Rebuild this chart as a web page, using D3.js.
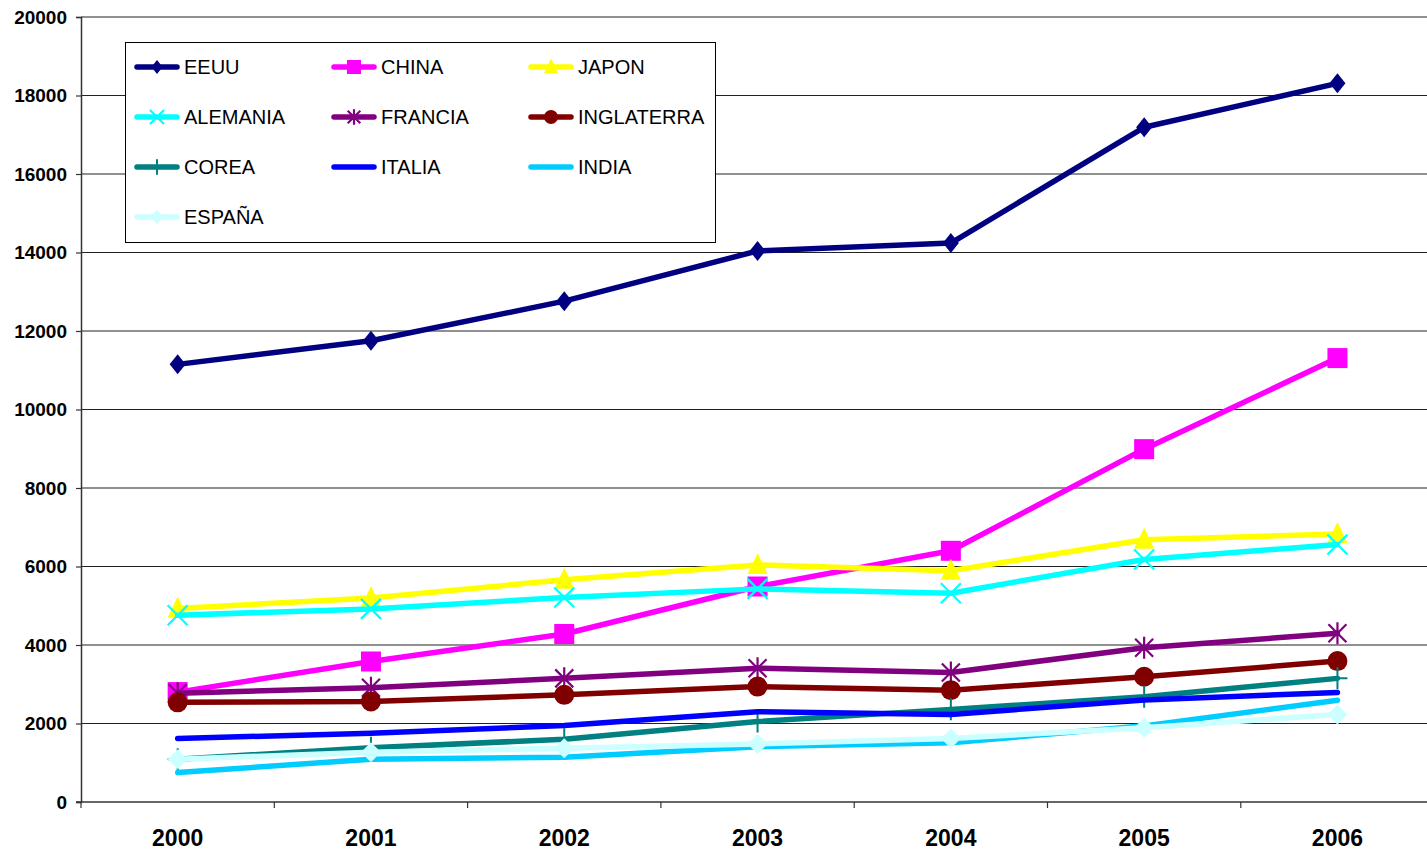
<!DOCTYPE html>
<html>
<head>
<meta charset="utf-8">
<script src="https://cdn.jsdelivr.net/npm/d3@7"></script>
<style>
  body { margin: 0; background: #fff; }
  svg { display: block; font-family: "Liberation Sans", Arial, sans-serif; }
</style>
</head>
<body>
<svg id="chart" width="1427" height="852"></svg>
<script>
// years on the x axis
const years = ["2000", "2001", "2002", "2003", "2004", "2005", "2006"];
const yTicks = [0, 2000, 4000, 6000, 8000, 10000, 12000, 14000, 16000, 18000, 20000];

// values per country
const eeuu       = [11150, 11750, 12760, 14040, 14240, 17190, 18310];
const china      = [2800, 3580, 4280, 5490, 6400, 8990, 11310];
const japon      = [4930, 5200, 5660, 6040, 5890, 6680, 6830];
const alemania   = [4760, 4920, 5210, 5430, 5320, 6180, 6560];
const francia    = [2770, 2910, 3150, 3410, 3300, 3930, 4300];
const inglaterra = [2540, 2560, 2730, 2940, 2850, 3190, 3590];
const corea      = [1090, 1380, 1600, 2050, 2360, 2680, 3150];
const italia     = [1620, 1750, 1950, 2300, 2230, 2600, 2790];
const india      = [750, 1090, 1140, 1410, 1510, 1940, 2590];
const espana     = [1090, 1270, 1370, 1480, 1620, 1890, 2230];

const names = ["EEUU", "CHINA", "JAPON", "ALEMANIA", "FRANCIA", "INGLATERRA", "COREA", "ITALIA", "INDIA", "ESPAÑA"];
const values = [eeuu, china, japon, alemania, francia, inglaterra, corea, italia, india, espana];
const colors = ["#000080", "#ff00ff", "#ffff00", "#00ffff", "#800080", "#800000", "#008080", "#0000ff", "#00ccff", "#ccffff"];
const markers = ["diamond", "square", "triangle", "x", "star", "circle", "plus", "none", "none", "diamond2"];

const series = names.map((n, i) => ({name: n, values: values[i], color: colors[i], marker: markers[i]}));

let svg = d3.select('#chart');
let plotLeft = 81, plotTop = 17, plotBottom = 802, step = 193.3;

var x = d3.scaleBand()
    .domain(years)
    .range([plotLeft, plotLeft + step * years.length]);

var y = d3.scaleLinear()
    .domain([0, 20000])
    .range([plotBottom, plotTop]);

// gridlines
svg.append('g')
  .selectAll('line')
  .data(yTicks.filter(d => d > 0))
  .enter().append('line')
    .attr('x1', plotLeft).attr('x2', 1427)
    .attr('y1', d => y(d)).attr('y2', d => y(d))
    .attr('stroke', '#222').attr('stroke-width', 1.2);

// y axis
var gY = svg.append('g')
    .attr('transform', 'translate(' + plotLeft + ',0)')
    .call(d3.axisLeft(y).tickValues(yTicks).tickSize(5).tickPadding(9).tickFormat(d3.format('d')));
gY.select('.domain').attr('stroke', '#333').attr('stroke-width', 1.5);
gY.selectAll('.tick line').attr('stroke', '#333').attr('stroke-width', 1.2);
gY.selectAll('text')
    .attr('font-size', 19)
    .attr('font-weight', 'bold')
    .attr('font-family', '"Liberation Sans", Arial, sans-serif')
    .attr('fill', '#000');

// x axis
var gX = svg.append('g')
    .attr('transform', 'translate(0,' + plotBottom + ')')
    .call(d3.axisBottom(x).tickSize(0).tickPadding(28));
gX.select('.domain').attr('stroke', '#333').attr('stroke-width', 1.5).attr('d', 'M' + (plotLeft - 5) + ',0H1427');
gX.selectAll('text')
    .attr('font-size', 23)
    .attr('font-weight', 'bold')
    .attr('font-family', '"Liberation Sans", Arial, sans-serif')
    .attr('fill', '#000');

// tick marks between categories
svg.append('g')
  .selectAll('line')
  .data(years)
  .enter().append('line')
    .attr('x1', d => x(d)).attr('x2', d => x(d))
    .attr('y1', plotBottom).attr('y2', plotBottom + 6)
    .attr('stroke', '#333').attr('stroke-width', 1.2);

function drawMarker(g, type, color, s) {
  if (type === 'diamond') {
    g.append('path').attr('d', `M0,${-10*s}L${8*s},0L0,${10*s}L${-8*s},0Z`).attr('fill', color);
  } else if (type === 'diamond2') {
    g.append('path').attr('d', `M0,${-10*s}L${10*s},0L0,${10*s}L${-10*s},0Z`).attr('fill', color);
  } else if (type === 'square') {
    g.append('rect').attr('x', -10*s).attr('y', -10*s).attr('width', 20*s).attr('height', 20*s).attr('fill', color);
  } else if (type === 'triangle') {
    g.append('path').attr('d', `M0,${-12*s}L${10*s},${9*s}L${-10*s},${9*s}Z`).attr('fill', color);
  } else if (type === 'circle') {
    g.append('circle').attr('r', 10*s).attr('fill', color);
  } else if (type === 'x') {
    g.append('path').attr('d', `M${-10*s},${-10*s}L${10*s},${10*s}M${10*s},${-10*s}L${-10*s},${10*s}`)
      .attr('stroke', color).attr('stroke-width', 2.2);
  } else if (type === 'star') {
    g.append('path').attr('d', `M${-9*s},${-9*s}L${9*s},${9*s}M${9*s},${-9*s}L${-9*s},${9*s}M0,${-11*s}L0,${11*s}`)
      .attr('stroke', color).attr('stroke-width', 2.2);
  } else if (type === 'plus') {
    g.append('path').attr('d', `M${-10*s},0L${10*s},0M0,${-11*s}L0,${11*s}`)
      .attr('stroke', color).attr('stroke-width', 2);
  }
}

var line = d3.line()
    .x((d, i) => x(years[i]) + x.bandwidth() / 2)
    .y(d => y(d));

// lines with their markers, in series order
series.forEach(s => {
  let g = svg.append('g');
  g.append('path')
      .attr('d', line(s.values))
      .attr('fill', 'none')
      .attr('stroke', s.color)
      .attr('stroke-width', 5.5)
      .attr('stroke-linejoin', 'round')
      .attr('stroke-linecap', 'round');
  s.values.forEach((v, i) => {
    let m = g.append('g')
        .attr('transform', 'translate(' + (x(years[i]) + x.bandwidth() / 2) + ',' + y(v) + ')');
    drawMarker(m, s.marker, s.color, 1);
  });
});

// legend
let legend = svg.append('g').attr('transform', 'translate(125,42)');
legend.append('rect')
    .attr('x', 0.5).attr('y', 0.5)
    .attr('width', 590).attr('height', 200)
    .attr('fill', '#fff')
    .attr('stroke', '#000').attr('stroke-width', 1);

series.forEach((s, i) => {
  let col = i % 3, row = Math.floor(i / 3);
  let item = legend.append('g')
      .attr('transform', 'translate(' + (9 + col * 197) + ',' + (25 + row * 50) + ')');
  item.append('line')
      .attr('x1', 3).attr('x2', 43).attr('y1', 0).attr('y2', 0)
      .attr('stroke', s.color).attr('stroke-width', 5.5).attr('stroke-linecap', 'round');
  drawMarker(item.append('g').attr('transform', 'translate(23,0)'), s.marker, s.color, 0.7);
  item.append('text')
      .attr('x', 50).attr('y', 7)
      .attr('font-size', 20)
      .attr('fill', '#000')
      .text(s.name);
});
</script>
</body>
</html>
